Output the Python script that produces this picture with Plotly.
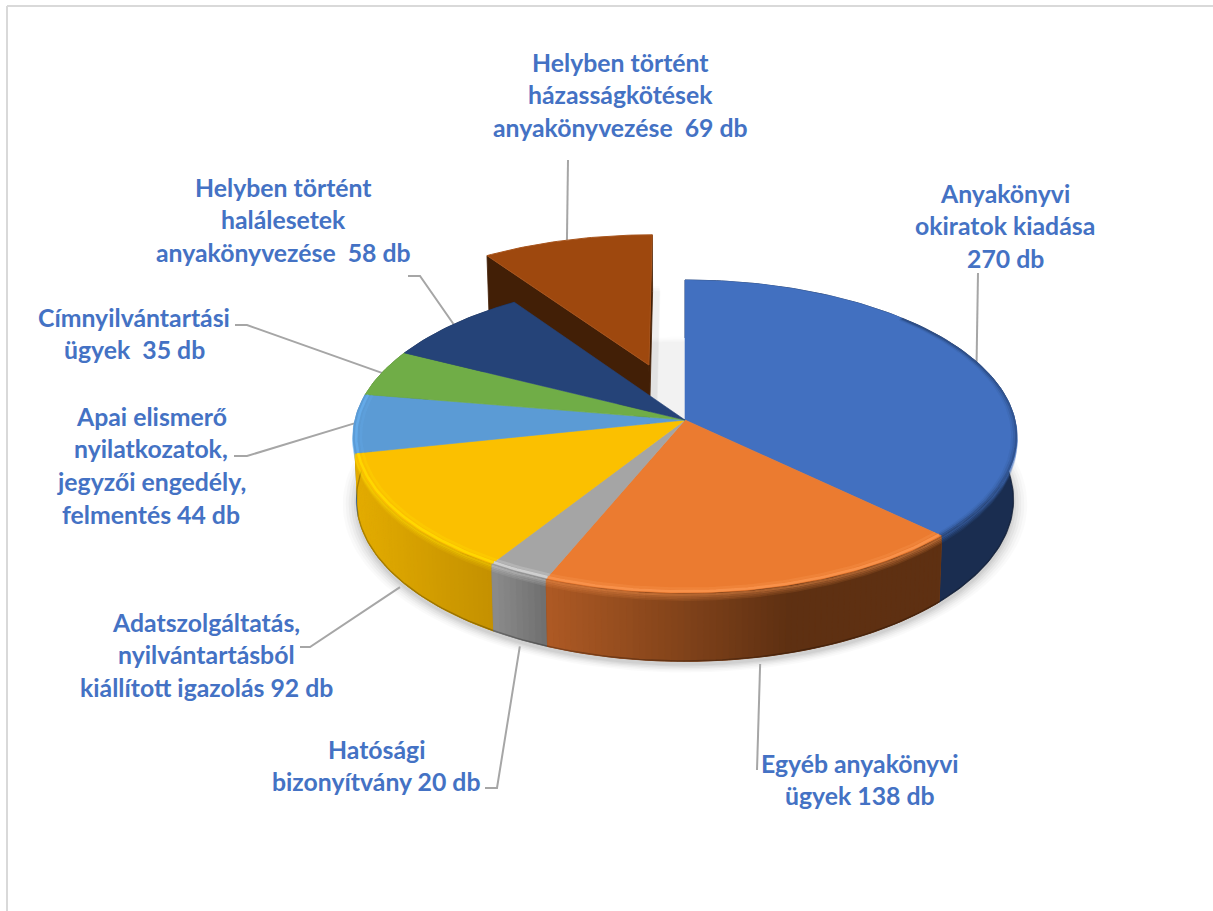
import math
import plotly.graph_objects as go

# ---- data ----
VALUES = [270, 138, 20, 92, 44, 35, 58, 69]
LABEL_LINES = [
    ["Anyakönyvi", "okiratok kiadása", "270 db"],
    ["Egyéb anyakönyvi", "ügyek 138 db"],
    ["Hatósági", "bizonyítvány 20 db"],
    ["Adatszolgáltatás,", "nyilvántartásból", "kiállított igazolás 92 db"],
    ["Apai elismerő", "nyilatkozatok,", "jegyzői engedély,", "felmentés 44 db"],
    ["Címnyilvántartási", "ügyek  35 db"],
    ["Helyben történt", "halálesetek", "anyakönyvezése  58 db"],
    ["Helyben történt", "házasságkötések", "anyakönyvezése  69 db"],
]
EXPLODE = [0, 0, 0, 0, 0, 0, 0, 0.386]

# ---- styles ----
FACE = ["#4270C0", "#EB7B30", "#A5A5A5", "#FBC000", "#5B9BD5", "#70AD47", "#254378", "#9E480E"]
WALL_A = ["#1A2D50", "#5E3012", "#6E6E6E", "#C49000", "#4A82BC", "#507F32", "#172A4C", "#421F06"]
WALL_B = ["#1A2D50", "#AE5A24", "#8C8C8C", "#E3AC00", "#4A82BC", "#507F32", "#172A4C", "#421F06"]
GLOW = [None, "#F9944E", "#D4D4D4", "#FFD900", "#6BB7F7", None, None, None]
TEXT_COLOR = "#4472C4"
LEADER_COLOR = "#A6A6A6"
FRAME_COLOR = "#D9D9D9"

# ---- layout of the labels (pixel scale of the axes) ----
LABEL_X = [1005, 860, 376, 206, 151, 134, 283, 620]
LABEL_TOP = [193, 763, 749, 622, 416, 317, 187, 62]
LINE_STEP = 32.7
FONT_SIZE = 24.8
ELBOWS = [
    [(978, 273)],
    [(757, 770)],
    [(497, 788), (485, 788)],
    [(310, 647), (300, 647)],
    [(247, 456), (234, 456)],
    [(247, 325), (235, 325)],
    [(420, 276), (408, 276)],
    [(568, 160)],
]
ANCHOR_ON_BASE = [False, True, True, True, False, False, False, False]

# ---- projection of the tilted pie ----
CX, CY, A, B, K, H = 685, 420, 330, 154.8, 0.1055, 62.6


def project(X, Y, z=0.0, grow=1.0, dx=0.0, dy=0.0):
    den = 1 + K * Y
    s = (1 - 0.01 * z) * grow
    return CX + A * X / den * s + dx, CY - B * Y / den * s + z * H / den + dy


def rim(t, ex=(0, 0), r=1.0):
    return r * math.sin(t) + ex[0], r * math.cos(t) + ex[1]


def arc(t0, t1, ex=(0, 0), r=1.0, step=1.0):
    n = max(2, int(abs(math.degrees(t1 - t0)) / step) + 1)
    return [rim(t0 + (t1 - t0) * i / (n - 1), ex, r) for i in range(n)]


def poly(pts, color, line=None, width=0.8):
    pts = list(pts) + [pts[0]]
    return go.Scatter(
        x=[p[0] for p in pts], y=[p[1] for p in pts], mode="lines",
        fill="toself", fillcolor=color,
        line=dict(color=line or color, width=width),
        hoverinfo="skip", showlegend=False,
    )


def stroke(pts, color, width):
    return go.Scatter(
        x=[p[0] for p in pts], y=[p[1] for p in pts], mode="lines",
        line=dict(color=color, width=width),
        hoverinfo="skip", showlegend=False,
    )


def mix(c1, c2, f):
    a = [int(c1[i:i + 2], 16) for i in (1, 3, 5)]
    b = [int(c2[i:i + 2], 16) for i in (1, 3, 5)]
    return "rgb(%d,%d,%d)" % tuple(round(a[i] + (b[i] - a[i]) * f) for i in range(3))


total = sum(VALUES)
angles = [0.0]
for v in VALUES:
    angles.append(angles[-1] + v / total * 2 * math.pi)
slices = []
for i in range(len(VALUES)):
    t0, t1 = angles[i], angles[i + 1]
    mid = (t0 + t1) / 2
    d = EXPLODE[i]
    slices.append((t0, t1, mid, (d * math.sin(mid), d * math.cos(mid))))

traces = []

# soft shadow under the pie
for grow, alpha in [(1.042, 0.020), (1.033, 0.025), (1.024, 0.030), (1.016, 0.035), (1.008, 0.040), (1.002, 0.045)]:
    base = [project(*p, z=1, grow=grow, dy=4) for p in arc(0, 2 * math.pi, step=2)]
    traces.append(poly(base, "rgba(0,0,0,%.3f)" % alpha, line="rgba(0,0,0,0)", width=0))

# the gap left by the pulled-out slice is only faintly shaded
t0, t1, mid, ex = slices[7]
gap = [project(0, 0, z=1)] + [project(*p, z=1, grow=1.06, dy=4) for p in arc(t0, t1)]
traces.append(poly(gap, "rgba(255,255,255,0.72)", line="rgba(0,0,0,0)", width=0))
for grow, alpha in [(1.03, 0.012), (1.02, 0.014), (1.01, 0.016), (1.002, 0.02)]:
    pts = [project(*ex, z=1, grow=grow, dx=8)]
    pts += [project(*p, z=1, grow=grow, dx=8) for p in arc(t0, t1, ex)]
    traces.append(poly(pts, "rgba(0,0,0,%.3f)" % alpha, line="rgba(0,0,0,0)", width=0))

# leader lines
for i, (t0, t1, mid, ex) in enumerate(slices):
    X, Y = rim(mid, ex)
    if ANCHOR_ON_BASE[i]:
        start = project(X, Y, z=1, dy=7)
    else:
        start = project(X, Y)
    traces.append(stroke([start] + ELBOWS[i], LEADER_COLOR, 2.0))

# exploded slice: cut walls and top (painted first)
for i, (t0, t1, mid, ex) in enumerate(slices):
    if not EXPLODE[i]:
        continue
    for t in (t0, t1):
        r = rim(t, ex)
        traces.append(poly([project(*ex), project(*r), project(*r, z=1), project(*ex, z=1)], WALL_A[i]))
    top = [project(*ex)] + [project(*p) for p in arc(t0, t1, ex)]
    traces.append(poly(top, FACE[i], line="#A8541C", width=1))

# outer walls of the main pie, back to front, with the horizontal lighting gradient
order = sorted((i for i in range(len(VALUES)) if not EXPLODE[i]), key=lambda i: -math.cos(slices[i][2]))
SEG = 1.0
for i in order:
    t0, t1, mid, ex = slices[i]
    seg_all = arc(t0, t1)
    wall = [project(*p) for p in seg_all] + [project(*p, z=1) for p in reversed(seg_all)]
    traces.append(poly(wall, mix(WALL_A[i], WALL_B[i], 0.5) if WALL_A[i] != WALL_B[i] else WALL_A[i]))
    if WALL_A[i] == WALL_B[i]:
        continue
    n = max(1, int(math.degrees(t1 - t0) / SEG))
    x_left = project(*rim(t1))[0]
    x_right = project(*rim(t0))[0]
    if i == 1:
        x_right = x_left + 242
    for j in range(n):
        a0 = t0 + (t1 - t0) * j / n
        a1 = t0 + (t1 - t0) * (j + 1) / n
        xm = project(*rim((a0 + a1) / 2))[0]
        f = min(1.0, max(0.0, (x_right - xm) / max(1, x_right - x_left)))
        pts = [project(*rim(a0)), project(*rim(a1)), project(*rim(a1), z=1), project(*rim(a0), z=1)]
        traces.append(poly(pts, mix(WALL_A[i], WALL_B[i], f)))

# soft bevel on the walls, darker line at the foot
for i in order:
    t0, t1, mid, ex = slices[i]
    glow = GLOW[i] or FACE[i]
    r, g, b = (int(glow[k:k + 2], 16) for k in (1, 3, 5))
    for z, al in [(0.10, 0.12), (0.075, 0.20), (0.05, 0.30), (0.025, 0.45)]:
        traces.append(stroke([project(*p, z=z) for p in arc(t0, t1)], "rgba(%d,%d,%d,%.2f)" % (r, g, b, al), 2.0))
    traces.append(stroke([project(*p, z=0.995) for p in arc(t0, t1)], "rgba(0,0,0,0.25)", 1.4))

# top faces
for i, (t0, t1, mid, ex) in enumerate(slices):
    if EXPLODE[i]:
        continue
    top = [project(0, 0)] + [project(*p) for p in arc(t0, t1)]
    traces.append(poly(top, FACE[i], width=0.6))

# bright rim on the front of the top faces
for i, (t0, t1, mid, ex) in enumerate(slices):
    if GLOW[i] is None:
        continue
    r, g, b = (int(GLOW[i][k:k + 2], 16) for k in (1, 3, 5))
    strength = 0.55 if i == 4 else 0.9
    traces.append(stroke([project(*p) for p in arc(t0, t1, r=0.991)], "rgba(%d,%d,%d,%.2f)" % (r, g, b, strength), 2.6))
    traces.append(stroke([project(*p) for p in arc(t0, t1, r=0.977)], "rgba(%d,%d,%d,%.2f)" % (r, g, b, strength * 0.35), 2.6))

# blue slice: darkening on its outer edge
t0, t1, mid, ex = slices[0]
for rr, al in [(0.998, 0.40), (0.992, 0.20), (0.986, 0.08)]:
    traces.append(stroke([project(*p) for p in arc(math.radians(45), t1, r=rr)], "rgba(26,45,80,%.2f)" % al, 2.0))

annotations = []
for xc, top, lines in zip(LABEL_X, LABEL_TOP, LABEL_LINES):
    for k, line in enumerate(lines):
        annotations.append(dict(
            x=xc, y=top + k * LINE_STEP, xref="x", yref="y", text=line, showarrow=False,
            xanchor="center", yanchor="middle",
            font=dict(family="Lato", size=FONT_SIZE, color=TEXT_COLOR, weight=700),
        ))

fig = go.Figure(traces)
fig.update_layout(
    width=1213, height=911, margin=dict(l=0, r=0, t=0, b=0),
    paper_bgcolor="white", plot_bgcolor="white", showlegend=False,
    xaxis=dict(range=[0, 1213], visible=False, fixedrange=True),
    yaxis=dict(range=[911, 0], visible=False, fixedrange=True),
    annotations=annotations,
    shapes=[
        dict(type="line", xref="x", yref="y", x0=7, x1=7, y0=6, y1=911, line=dict(color=FRAME_COLOR, width=2)),
        dict(type="line", xref="x", yref="y", x0=7, x1=1213, y0=6, y1=6, line=dict(color=FRAME_COLOR, width=2)),
    ],
)
fig.write_html("out.html", config={"displayModeBar": False},
               post_script="document.body.style.margin='0';document.body.style.overflow='hidden';")
